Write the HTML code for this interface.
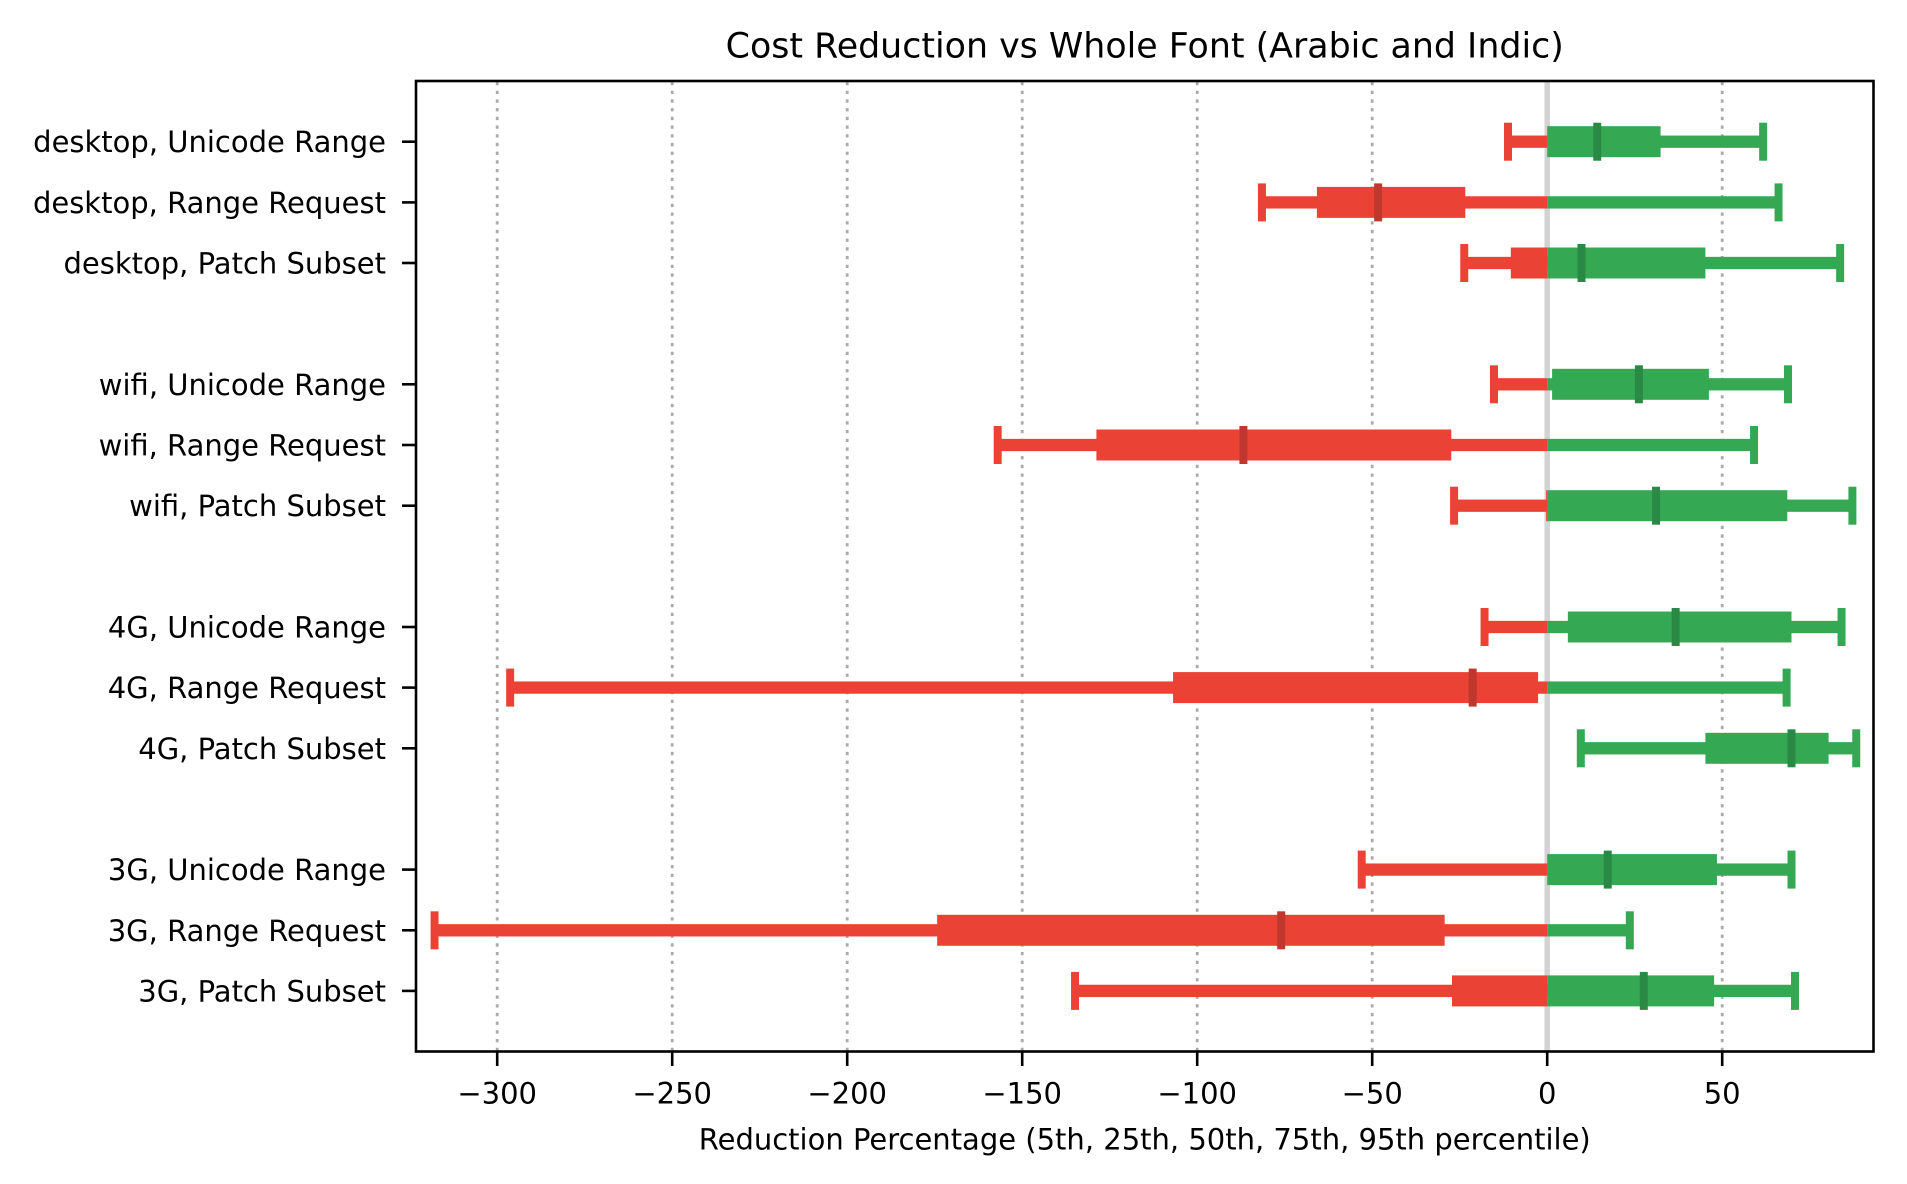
<!DOCTYPE html>
<html>
<head>
<meta charset="utf-8">
<style>
  html,body{margin:0;padding:0;background:#fff;}
  svg{display:block;}
  text{font-family:"DejaVu Sans","Liberation Sans",sans-serif;fill:#000;}
</style>
</head>
<body>
<svg width="1907" height="1184" viewBox="0 0 1907 1184" xmlns="http://www.w3.org/2000/svg">
  <rect x="0" y="0" width="1907" height="1184" fill="#fff"/>

  <!-- grid lines -->
  <g stroke="#aaaaaa" stroke-width="2.8" stroke-dasharray="3.3 5.4">
    <line x1="497.2" y1="82" x2="497.2" y2="1051"/>
    <line x1="672.2" y1="82" x2="672.2" y2="1051"/>
    <line x1="847.2" y1="82" x2="847.2" y2="1051"/>
    <line x1="1022.2" y1="82" x2="1022.2" y2="1051"/>
    <line x1="1197.2" y1="82" x2="1197.2" y2="1051"/>
    <line x1="1372.2" y1="82" x2="1372.2" y2="1051"/>
    <line x1="1722.2" y1="82" x2="1722.2" y2="1051"/>
  </g>
  <!-- zero line -->
  <line x1="1547.2" y1="81" x2="1547.2" y2="1051.5" stroke="#d3d3d3" stroke-width="5.5"/>

  <!-- Row 0: desktop, Unicode Range -->
  <g transform="translate(0,141.7)">
    <rect x="1508.0" y="-6.15" width="39.2" height="12.3" fill="#EA4335"/>
    <rect x="1547.2" y="-6.15" width="215.95" height="12.3" fill="#34A853"/>
    <rect x="1547.2" y="-15.5" width="113.4" height="31" fill="#34A853"/>
    <rect x="1504.0" y="-19" width="8" height="38" fill="#EA4335"/>
    <rect x="1759.15" y="-19" width="8" height="38" fill="#34A853"/>
    <rect x="1593.25" y="-19" width="8" height="38" fill="#2A8A45"/>
  </g>
  <!-- Row 1: desktop, Range Request -->
  <g transform="translate(0,202.4)">
    <rect x="1261.95" y="-6.15" width="285.25" height="12.3" fill="#EA4335"/>
    <rect x="1547.2" y="-6.15" width="231.35" height="12.3" fill="#34A853"/>
    <rect x="1316.9" y="-15.5" width="148.4" height="31" fill="#EA4335"/>
    <rect x="1257.95" y="-19" width="8" height="38" fill="#EA4335"/>
    <rect x="1774.55" y="-19" width="8" height="38" fill="#34A853"/>
    <rect x="1374.15" y="-19" width="8" height="38" fill="#BF372D"/>
  </g>
  <!-- Row 2: desktop, Patch Subset -->
  <g transform="translate(0,263.0)">
    <rect x="1464.25" y="-6.15" width="82.95" height="12.3" fill="#EA4335"/>
    <rect x="1547.2" y="-6.15" width="292.95" height="12.3" fill="#34A853"/>
    <rect x="1510.8" y="-15.5" width="36.4" height="31" fill="#EA4335"/>
    <rect x="1547.2" y="-15.5" width="158.2" height="31" fill="#34A853"/>
    <rect x="1460.25" y="-19" width="8" height="38" fill="#EA4335"/>
    <rect x="1836.15" y="-19" width="8" height="38" fill="#34A853"/>
    <rect x="1577.5" y="-19" width="8" height="38" fill="#2A8A45"/>
  </g>

  <!-- Row 4: wifi, Unicode Range -->
  <g transform="translate(0,384.3)">
    <rect x="1494.0" y="-6.15" width="53.2" height="12.3" fill="#EA4335"/>
    <rect x="1547.2" y="-6.15" width="240.8" height="12.3" fill="#34A853"/>
    <rect x="1552.1" y="-15.5" width="156.8" height="31" fill="#34A853"/>
    <rect x="1490.0" y="-19" width="8" height="38" fill="#EA4335"/>
    <rect x="1784.0" y="-19" width="8" height="38" fill="#34A853"/>
    <rect x="1634.9" y="-19" width="8" height="38" fill="#2A8A45"/>
  </g>
  <!-- Row 5: wifi, Range Request -->
  <g transform="translate(0,445.0)">
    <rect x="997.7" y="-6.15" width="549.5" height="12.3" fill="#EA4335"/>
    <rect x="1547.2" y="-6.15" width="206.85" height="12.3" fill="#34A853"/>
    <rect x="1096.4" y="-15.5" width="354.9" height="31" fill="#EA4335"/>
    <rect x="993.7" y="-19" width="8" height="38" fill="#EA4335"/>
    <rect x="1750.05" y="-19" width="8" height="38" fill="#34A853"/>
    <rect x="1239.4" y="-19" width="8" height="38" fill="#BF372D"/>
  </g>
  <!-- Row 6: wifi, Patch Subset -->
  <g transform="translate(0,505.7)">
    <rect x="1454.1" y="-6.15" width="93.1" height="12.3" fill="#EA4335"/>
    <rect x="1547.2" y="-6.15" width="305.2" height="12.3" fill="#34A853"/>
    <rect x="1546.15" y="-15.5" width="1.05" height="31" fill="#EA4335"/>
    <rect x="1547.2" y="-15.5" width="240.1" height="31" fill="#34A853"/>
    <rect x="1450.1" y="-19" width="8" height="38" fill="#EA4335"/>
    <rect x="1848.4" y="-19" width="8" height="38" fill="#34A853"/>
    <rect x="1652.05" y="-19" width="8" height="38" fill="#2A8A45"/>
  </g>

  <!-- Row 8: 4G, Unicode Range -->
  <g transform="translate(0,627.0)">
    <rect x="1484.55" y="-6.15" width="62.65" height="12.3" fill="#EA4335"/>
    <rect x="1547.2" y="-6.15" width="294.35" height="12.3" fill="#34A853"/>
    <rect x="1567.85" y="-15.5" width="223.65" height="31" fill="#34A853"/>
    <rect x="1480.55" y="-19" width="8" height="38" fill="#EA4335"/>
    <rect x="1837.55" y="-19" width="8" height="38" fill="#34A853"/>
    <rect x="1671.65" y="-19" width="8" height="38" fill="#2A8A45"/>
  </g>
  <!-- Row 9: 4G, Range Request -->
  <g transform="translate(0,687.6)">
    <rect x="510.15" y="-6.15" width="1037.05" height="12.3" fill="#EA4335"/>
    <rect x="1547.2" y="-6.15" width="239.4" height="12.3" fill="#34A853"/>
    <rect x="1173.05" y="-15.5" width="365.05" height="31" fill="#EA4335"/>
    <rect x="506.15" y="-19" width="8" height="38" fill="#EA4335"/>
    <rect x="1782.6" y="-19" width="8" height="38" fill="#34A853"/>
    <rect x="1468.65" y="-19" width="8" height="38" fill="#BF372D"/>
  </g>
  <!-- Row 10: 4G, Patch Subset -->
  <g transform="translate(0,748.3)">
    <rect x="1580.8" y="-6.15" width="275.45" height="12.3" fill="#34A853"/>
    <rect x="1705.4" y="-15.5" width="123.2" height="31" fill="#34A853"/>
    <rect x="1576.8" y="-19" width="8" height="38" fill="#34A853"/>
    <rect x="1852.25" y="-19" width="8" height="38" fill="#34A853"/>
    <rect x="1787.5" y="-19" width="8" height="38" fill="#2A8A45"/>
  </g>

  <!-- Row 12: 3G, Unicode Range -->
  <g transform="translate(0,869.6)">
    <rect x="1361.7" y="-6.15" width="185.5" height="12.3" fill="#EA4335"/>
    <rect x="1547.2" y="-6.15" width="244.3" height="12.3" fill="#34A853"/>
    <rect x="1547.2" y="-15.5" width="169.75" height="31" fill="#34A853"/>
    <rect x="1357.7" y="-19" width="8" height="38" fill="#EA4335"/>
    <rect x="1787.5" y="-19" width="8" height="38" fill="#34A853"/>
    <rect x="1603.75" y="-19" width="8" height="38" fill="#2A8A45"/>
  </g>
  <!-- Row 13: 3G, Range Request -->
  <g transform="translate(0,930.3)">
    <rect x="434.55" y="-6.15" width="1112.65" height="12.3" fill="#EA4335"/>
    <rect x="1547.2" y="-6.15" width="82.6" height="12.3" fill="#34A853"/>
    <rect x="937.15" y="-15.5" width="507.5" height="31" fill="#EA4335"/>
    <rect x="430.55" y="-19" width="8" height="38" fill="#EA4335"/>
    <rect x="1625.8" y="-19" width="8" height="38" fill="#34A853"/>
    <rect x="1277.2" y="-19" width="8" height="38" fill="#BF372D"/>
  </g>
  <!-- Row 14: 3G, Patch Subset -->
  <g transform="translate(0,990.9)">
    <rect x="1075.05" y="-6.15" width="472.15" height="12.3" fill="#EA4335"/>
    <rect x="1547.2" y="-6.15" width="247.8" height="12.3" fill="#34A853"/>
    <rect x="1452.0" y="-15.5" width="95.2" height="31" fill="#EA4335"/>
    <rect x="1547.2" y="-15.5" width="166.95" height="31" fill="#34A853"/>
    <rect x="1071.05" y="-19" width="8" height="38" fill="#EA4335"/>
    <rect x="1791.0" y="-19" width="8" height="38" fill="#34A853"/>
    <rect x="1639.8" y="-19" width="8" height="38" fill="#2A8A45"/>
  </g>

  <!-- axes frame -->
  <rect x="416" y="81" width="1457.5" height="970.5" fill="none" stroke="#000" stroke-width="2.6"/>

  <!-- x ticks -->
  <g stroke="#000" stroke-width="2.6">
    <line x1="497.2" y1="1051.5" x2="497.2" y2="1066"/>
    <line x1="672.2" y1="1051.5" x2="672.2" y2="1066"/>
    <line x1="847.2" y1="1051.5" x2="847.2" y2="1066"/>
    <line x1="1022.2" y1="1051.5" x2="1022.2" y2="1066"/>
    <line x1="1197.2" y1="1051.5" x2="1197.2" y2="1066"/>
    <line x1="1372.2" y1="1051.5" x2="1372.2" y2="1066"/>
    <line x1="1547.2" y1="1051.5" x2="1547.2" y2="1066"/>
    <line x1="1722.2" y1="1051.5" x2="1722.2" y2="1066"/>
  </g>
  <!-- y ticks -->
  <g stroke="#000" stroke-width="2.6">
    <line x1="402" y1="141.7" x2="416" y2="141.7"/>
    <line x1="402" y1="202.4" x2="416" y2="202.4"/>
    <line x1="402" y1="263.0" x2="416" y2="263.0"/>
    <line x1="402" y1="384.3" x2="416" y2="384.3"/>
    <line x1="402" y1="445.0" x2="416" y2="445.0"/>
    <line x1="402" y1="505.7" x2="416" y2="505.7"/>
    <line x1="402" y1="627.0" x2="416" y2="627.0"/>
    <line x1="402" y1="687.6" x2="416" y2="687.6"/>
    <line x1="402" y1="748.3" x2="416" y2="748.3"/>
    <line x1="402" y1="869.6" x2="416" y2="869.6"/>
    <line x1="402" y1="930.3" x2="416" y2="930.3"/>
    <line x1="402" y1="990.9" x2="416" y2="990.9"/>
  </g>

  <!-- x tick labels -->
  <g font-size="29" text-anchor="middle">
    <text x="497.2" y="1103.5">−300</text>
    <text x="672.2" y="1103.5">−250</text>
    <text x="847.2" y="1103.5">−200</text>
    <text x="1022.2" y="1103.5">−150</text>
    <text x="1197.2" y="1103.5">−100</text>
    <text x="1372.2" y="1103.5">−50</text>
    <text x="1547.2" y="1103.5">0</text>
    <text x="1722.2" y="1103.5">50</text>
  </g>

  <!-- y tick labels -->
  <g font-size="29" text-anchor="end">
    <text x="386" y="152.2">desktop, Unicode Range</text>
    <text x="386" y="212.9">desktop, Range Request</text>
    <text x="386" y="273.5">desktop, Patch Subset</text>
    <text x="386" y="394.8">wifi, Unicode Range</text>
    <text x="386" y="455.5">wifi, Range Request</text>
    <text x="386" y="516.2">wifi, Patch Subset</text>
    <text x="386" y="637.5">4G, Unicode Range</text>
    <text x="386" y="698.1">4G, Range Request</text>
    <text x="386" y="758.8">4G, Patch Subset</text>
    <text x="386" y="880.1">3G, Unicode Range</text>
    <text x="386" y="940.8">3G, Range Request</text>
    <text x="386" y="1001.4">3G, Patch Subset</text>
  </g>

  <!-- x label -->
  <text x="1144.75" y="1149.5" font-size="29" text-anchor="middle">Reduction Percentage (5th, 25th, 50th, 75th, 95th percentile)</text>

  <!-- title -->
  <text x="1144.75" y="57.5" font-size="34.8" text-anchor="middle">Cost Reduction vs Whole Font (Arabic and Indic)</text>
</svg>
</body>
</html>
